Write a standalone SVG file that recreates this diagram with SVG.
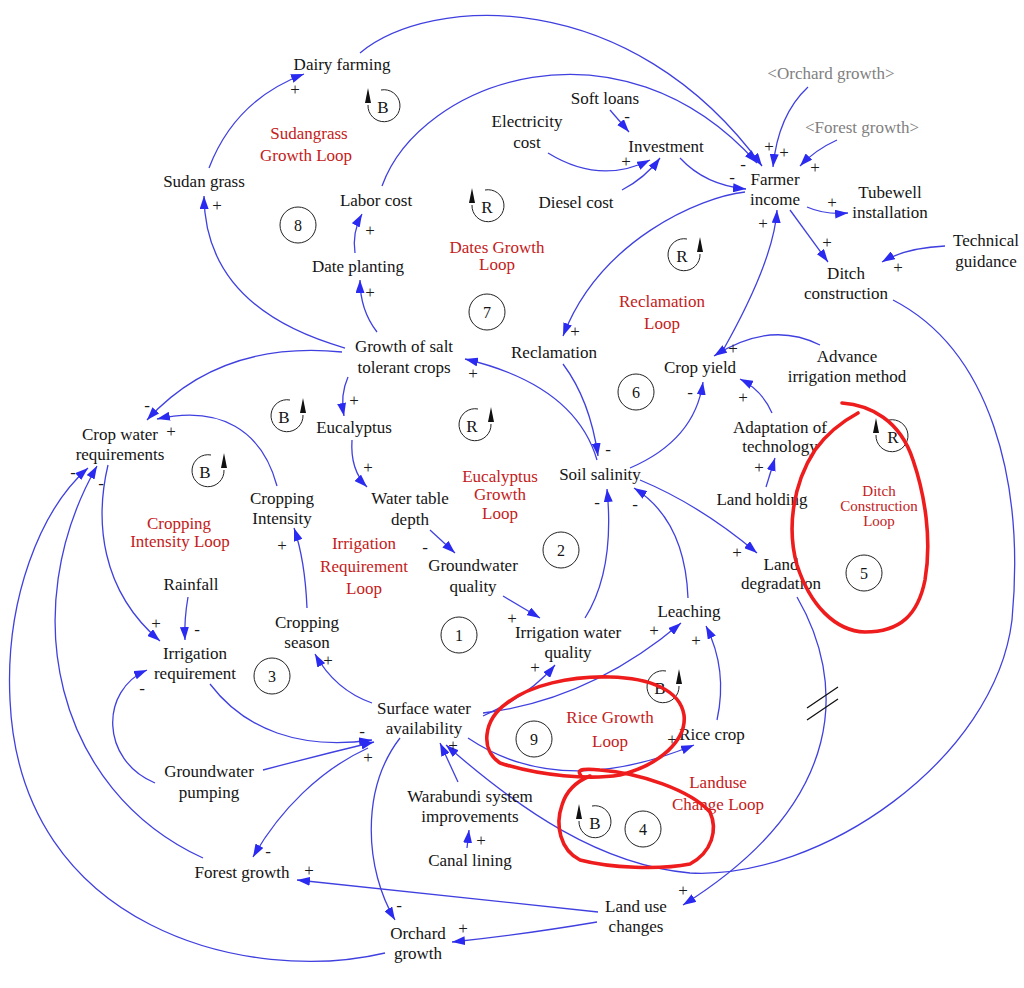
<svg xmlns="http://www.w3.org/2000/svg" xmlns:xlink="http://www.w3.org/1999/xlink" width="1024" height="988" viewBox="0 0 1024 988">
<style>
text{font-family:"Liberation Serif","Times New Roman",serif;font-size:17px;fill:#141414;text-anchor:middle}
.l{fill:#c42020}
.sm{font-size:15px}
.s{fill:#808080}
.p{font-size:17px;fill:#1a1a1a}
.num{font-size:16px}
.c{fill:none;stroke:#4040e0;stroke-width:1.3;marker-end:url(#ah)}
.nc{fill:none;stroke:#4040e0;stroke-width:1.3}
.ring{fill:none;stroke:#222;stroke-width:1}
.red{fill:none;stroke:#ee1c1c;stroke-width:3.6;stroke-linecap:round;stroke-linejoin:round}
</style>
<defs>
<marker id="ah" markerUnits="userSpaceOnUse" markerWidth="14" markerHeight="9" refX="13" refY="4.5" orient="auto">
<path d="M0,0 L13,4.5 L0,9 Z" fill="#2a2af0"/>
</marker>
<g id="loopR"><path d="M 3 -16 A 16 16 0 1 0 16 -1" class="ring"/><path d="M 16 -18 L 13 -3 L 19 -3 Z" fill="#111"/></g>
<g id="loopL"><path d="M -3 -16 A 16 16 0 1 1 -16 -1" class="ring"/><path d="M -16 -18 L -19 -3 L -13 -3 Z" fill="#111"/></g>
</defs>
<rect width="1024" height="988" fill="#fff"/>

<g id="connectors">
<path class="c" d="M 209 168 Q 235 100 304 74"/>
<path class="c" d="M 345 348 Q 205 308 204 196"/>
<path class="c" d="M 360 53 C 430 -5, 630 -15, 762 166"/>
<path class="c" d="M 382 186 C 420 80, 620 10, 757 163"/>
<path class="c" d="M 355 253 Q 352 232 362 214"/>
<path class="c" d="M 377 332 Q 360 310 360 280"/>
<path class="c" d="M 610 110 L 629 132"/>
<path class="c" d="M 548 153 Q 600 185 650 160"/>
<path class="c" d="M 622 190 Q 645 178 660 158"/>
<path class="c" d="M 680 158 Q 705 185 746 189"/>
<path class="c" d="M 808 87 Q 778 115 773 167"/>
<path class="c" d="M 837 140 Q 815 150 800 166"/>
<path class="c" d="M 807 207 Q 825 215 848 213"/>
<path class="c" d="M 790 210 L 828 262"/>
<path class="c" d="M 945 246 Q 905 248 882 262"/>
<path class="c" d="M 745 192 C 700 197, 600 240, 563 336"/>
<path class="c" d="M 722 352 Q 774 260 777 210"/>
<path class="c" d="M 893 300 C 990 350, 1025 480, 1012 620 C 995 760, 820 880, 690 873 C 600 865, 520 810, 446 745"/>
<path class="c" d="M 797 597 C 845 680, 850 800, 683 905"/>
<path class="nc" d="M 807 708 L 838 687 M 807 720 L 838 699" style="stroke:#111"/>
<path class="c" d="M 820 345 Q 770 320 714 356"/>
<path class="c" d="M 772 413 Q 762 390 740 379"/>
<path class="c" d="M 766 487 L 775 458"/>
<path class="c" d="M 630 468 Q 695 440 703 382"/>
<path class="c" d="M 597 460 Q 575 385 465 359"/>
<path class="c" d="M 563 364 Q 590 400 598 456"/>
<path class="c" d="M 585 618 Q 615 570 607 489"/>
<path class="c" d="M 688 598 Q 685 520 634 488"/>
<path class="c" d="M 640 480 Q 700 505 757 553"/>
<path class="c" d="M 717 720 Q 728 670 706 626"/>
<path class="c" d="M 483 713 Q 590 700 681 623"/>
<path class="c" d="M 483 716 Q 530 695 555 665"/>
<path class="c" d="M 468 738 Q 560 800 694 745"/>
<path class="c" d="M 342 352 Q 220 340 147 420"/>
<path class="c" d="M 277 486 C 262 430, 220 405, 157 419"/>
<path class="c" d="M 348 377 Q 340 395 344 416"/>
<path class="c" d="M 352 440 Q 350 470 367 487"/>
<path class="c" d="M 430 530 L 455 553"/>
<path class="c" d="M 503 596 L 540 618"/>
<path class="c" d="M 307 608 Q 305 560 294 528"/>
<path class="c" d="M 372 703 Q 335 690 315 654"/>
<path class="c" d="M 108 465 C 95 520, 100 590, 160 641"/>
<path class="c" d="M 188 597 Q 184 620 185 640"/>
<path class="c" d="M 210 684 C 245 730, 300 750, 372 740"/>
<path class="c" d="M 263 770 Q 320 755 374 742"/>
<path class="c" d="M 155 783 C 100 760, 100 690, 147 670"/>
<path class="c" d="M 368 748 C 320 770, 280 810, 253 857"/>
<path class="c" d="M 400 738 C 360 790, 365 870, 395 920"/>
<path class="c" d="M 458 782 L 440 743"/>
<path class="c" d="M 467 848 L 469 830"/>
<path class="c" d="M 598 912 Q 440 895 297 880"/>
<path class="c" d="M 597 922 Q 520 935 452 942"/>
<path class="c" d="M 203 858 C 55 790, 15 610, 97 466"/>
<path class="c" d="M 385 953 C 250 985, 20 930, 10 700 C 5 600, 40 510, 88 468"/>
</g>

<g id="polarities">
<text class="p" x="295" y="95">+</text>
<text class="p" x="217" y="211">+</text>
<text class="p" x="370" y="236">+</text>
<text class="p" x="370" y="298">+</text>
<text class="p" x="627" y="122">-</text>
<text class="p" x="626" y="167">+</text>
<text class="p" x="769" y="152">+</text>
<text class="p" x="784" y="158">+</text>
<text class="p" x="743" y="170">-</text>
<text class="p" x="815" y="173">+</text>
<text class="p" x="732" y="183">-</text>
<text class="p" x="763" y="229">+</text>
<text class="p" x="832" y="208">+</text>
<text class="p" x="827" y="248">+</text>
<text class="p" x="898" y="273">+</text>
<text class="p" x="575" y="337">+</text>
<text class="p" x="733" y="354">+</text>
<text class="p" x="690" y="398">-</text>
<text class="p" x="743" y="403">+</text>
<text class="p" x="759" y="473">+</text>
<text class="p" x="473" y="379">+</text>
<text class="p" x="608" y="455">-</text>
<text class="p" x="597" y="508">-</text>
<text class="p" x="635" y="510">-</text>
<text class="p" x="737" y="558">+</text>
<text class="p" x="654" y="636">+</text>
<text class="p" x="696" y="646">+</text>
<text class="p" x="672" y="745">+</text>
<text class="p" x="512" y="624">+</text>
<text class="p" x="535" y="673">+</text>
<text class="p" x="425" y="553">-</text>
<text class="p" x="354" y="406">+</text>
<text class="p" x="368" y="473">+</text>
<text class="p" x="147" y="411">-</text>
<text class="p" x="171" y="437">+</text>
<text class="p" x="73" y="478">-</text>
<text class="p" x="101" y="489">-</text>
<text class="p" x="282" y="551">+</text>
<text class="p" x="156" y="629">+</text>
<text class="p" x="197" y="635">-</text>
<text class="p" x="142" y="694">-</text>
<text class="p" x="328" y="666">+</text>
<text class="p" x="362" y="737">-</text>
<text class="p" x="368" y="763">+</text>
<text class="p" x="453" y="751">+</text>
<text class="p" x="268" y="857">-</text>
<text class="p" x="309" y="876">+</text>
<text class="p" x="399" y="911">-</text>
<text class="p" x="463" y="934">+</text>
<text class="p" x="481" y="846">+</text>
<text class="p" x="683" y="896">+</text>
</g>

<g id="n-dairy"><text x="342" y="70">Dairy farming</text></g>
<g id="n-sudan"><text x="204" y="187">Sudan grass</text></g>
<g id="n-labor"><text x="376" y="206">Labor cost</text></g>
<g id="n-date"><text x="358" y="272">Date planting</text></g>
<g id="n-elec"><text x="527" y="127">Electricity</text><text x="527" y="148">cost</text></g>
<g id="n-soft"><text x="605" y="104">Soft loans</text></g>
<g id="n-invest"><text x="666" y="152">Investment</text></g>
<g id="n-diesel"><text x="576" y="208">Diesel cost</text></g>
<g id="n-orchard-s"><text class="s" x="831" y="79">&lt;Orchard growth&gt;</text></g>
<g id="n-forest-s"><text class="s" x="862" y="133">&lt;Forest growth&gt;</text></g>
<g id="n-farmer"><text x="775" y="185">Farmer</text><text x="775" y="205">income</text></g>
<g id="n-tubewell"><text x="890" y="198">Tubewell</text><text x="890" y="218">installation</text></g>
<g id="n-tech"><text x="986" y="246">Technical</text><text x="986" y="267">guidance</text></g>
<g id="n-ditch"><text x="846" y="279">Ditch</text><text x="846" y="299">construction</text></g>
<g id="n-cropyield"><text x="700" y="373">Crop yield</text></g>
<g id="n-advance"><text x="847" y="362">Advance</text><text x="847" y="382">irrigation method</text></g>
<g id="n-adapt"><text x="780" y="433">Adaptation of</text><text x="780" y="452">technology</text></g>
<g id="n-landhold"><text x="762" y="505">Land holding</text></g>
<g id="n-landdeg"><text x="781" y="570">Land</text><text x="781" y="589">degradation</text></g>
<g id="n-leach"><text x="689" y="617">Leaching</text></g>
<g id="n-rice"><text x="712" y="740">Rice crop</text></g>
<g id="n-iwq"><text x="568" y="638">Irrigation water</text><text x="568" y="658">quality</text></g>
<g id="n-sw"><text x="424" y="714">Surface water</text><text x="424" y="734">availability</text></g>
<g id="n-warab"><text x="470" y="802">Warabundi system</text><text x="470" y="822">improvements</text></g>
<g id="n-canal"><text x="470" y="866">Canal lining</text></g>
<g id="n-landuse"><text x="636" y="912">Land use</text><text x="636" y="932">changes</text></g>
<g id="n-orchard"><text x="418" y="939">Orchard</text><text x="418" y="959">growth</text></g>
<g id="n-forest"><text x="242" y="878">Forest growth</text></g>
<g id="n-gwpump"><text x="209" y="777">Groundwater</text><text x="209" y="798">pumping</text></g>
<g id="n-irrreq"><text x="195" y="659">Irrigation</text><text x="195" y="679">requirement</text></g>
<g id="n-rain"><text x="191" y="590">Rainfall</text></g>
<g id="n-cropseason"><text x="307" y="628">Cropping</text><text x="307" y="648">season</text></g>
<g id="n-cropint"><text x="282" y="504">Cropping</text><text x="282" y="524">Intensity</text></g>
<g id="n-cropwater"><text x="120" y="440">Crop water</text><text x="120" y="460">requirements</text></g>
<g id="n-salt"><text x="404" y="352">Growth of salt</text><text x="404" y="373">tolerant crops</text></g>
<g id="n-euc"><text x="354" y="433">Eucalyptus</text></g>
<g id="n-wtd"><text x="410" y="504">Water table</text><text x="410" y="525">depth</text></g>
<g id="n-gwq"><text x="473" y="571">Groundwater</text><text x="473" y="592">quality</text></g>
<g id="n-soilsal"><text x="600" y="480">Soil salinity</text></g>
<g id="n-reclam"><text x="554" y="358">Reclamation</text></g>

<g id="loop-labels">
<text class="l" x="309" y="139">Sudangrass</text><text class="l" x="306" y="161">Growth Loop</text>
<text class="l" x="497" y="253">Dates Growth</text><text class="l" x="497" y="270">Loop</text>
<text class="l" x="662" y="307">Reclamation</text><text class="l" x="662" y="329">Loop</text>
<text class="l" x="500" y="482">Eucalyptus</text><text class="l" x="500" y="500">Growth</text><text class="l" x="500" y="519">Loop</text>
<text class="l" x="179" y="529">Cropping</text><text class="l" x="180" y="547">Intensity Loop</text>
<text class="l" x="364" y="549">Irrigation</text><text class="l" x="364" y="572">Requirement</text><text class="l" x="364" y="594">Loop</text>
<text class="l sm" x="879" y="496">Ditch</text><text class="l sm" x="879" y="511">Construction</text><text class="l sm" x="879" y="526">Loop</text>
<text class="l" x="610" y="723">Rice Growth</text><text class="l" x="610" y="747">Loop</text>
<text class="l" x="718" y="788">Landuse</text><text class="l" x="718" y="810">Change Loop</text>
</g>

<g id="loop-numbers">
<circle class="ring" cx="298" cy="225" r="18"/><text class="num" x="298" y="231">8</text>
<circle class="ring" cx="487" cy="312" r="18"/><text class="num" x="487" y="318">7</text>
<circle class="ring" cx="636" cy="392" r="18"/><text class="num" x="636" y="398">6</text>
<circle class="ring" cx="561" cy="550" r="18"/><text class="num" x="561" y="556">2</text>
<circle class="ring" cx="459" cy="635" r="18"/><text class="num" x="459" y="641">1</text>
<circle class="ring" cx="272" cy="676" r="18"/><text class="num" x="272" y="682">3</text>
<circle class="ring" cx="864" cy="573" r="18"/><text class="num" x="864" y="579">5</text>
<circle class="ring" cx="534" cy="739" r="18"/><text class="num" x="534" y="745">9</text>
<circle class="ring" cx="643" cy="829" r="18"/><text class="num" x="643" y="835">4</text>
</g>

<g id="loop-markers">
<use xlink:href="#loopL" x="384" y="106"/><text x="383" y="113">B</text>
<use xlink:href="#loopL" x="488" y="206"/><text x="487" y="213">R</text>
<use xlink:href="#loopR" x="684" y="255"/><text x="682" y="262">R</text>
<use xlink:href="#loopR" x="287" y="416"/><text x="284" y="423">B</text>
<use xlink:href="#loopR" x="475" y="425"/><text x="472" y="432">R</text>
<use xlink:href="#loopR" x="208" y="471"/><text x="205" y="478">B</text>
<use xlink:href="#loopL" x="892" y="436"/><text x="893" y="443">R</text>
<use xlink:href="#loopR" x="663" y="687"/><text x="660" y="694">B</text>
<use xlink:href="#loopL" x="595" y="822"/><text x="595" y="829">B</text>
</g>

<g id="annotations">
<path class="red" d="M 842 403 C 870 405, 900 420, 913 460 C 925 495, 932 540, 925 580 C 918 615, 900 632, 865 632 C 835 631, 810 605, 797 565 C 787 530, 792 485, 815 450 C 828 432, 845 420, 858 413"/>
<path class="red" d="M 500 763 C 480 750, 483 720, 507 703 C 530 685, 570 676, 610 677 C 650 678, 680 690, 684 715 C 687 740, 660 765, 620 775 C 590 780, 540 776, 500 763 Z"/>
<path class="red" d="M 583 778 C 575 770, 580 768, 600 770 C 640 773, 690 790, 710 812 C 718 830, 712 852, 690 864 C 660 870, 610 868, 580 860 C 560 850, 555 825, 562 805 C 566 792, 575 782, 590 776"/>
</g>
</svg>
